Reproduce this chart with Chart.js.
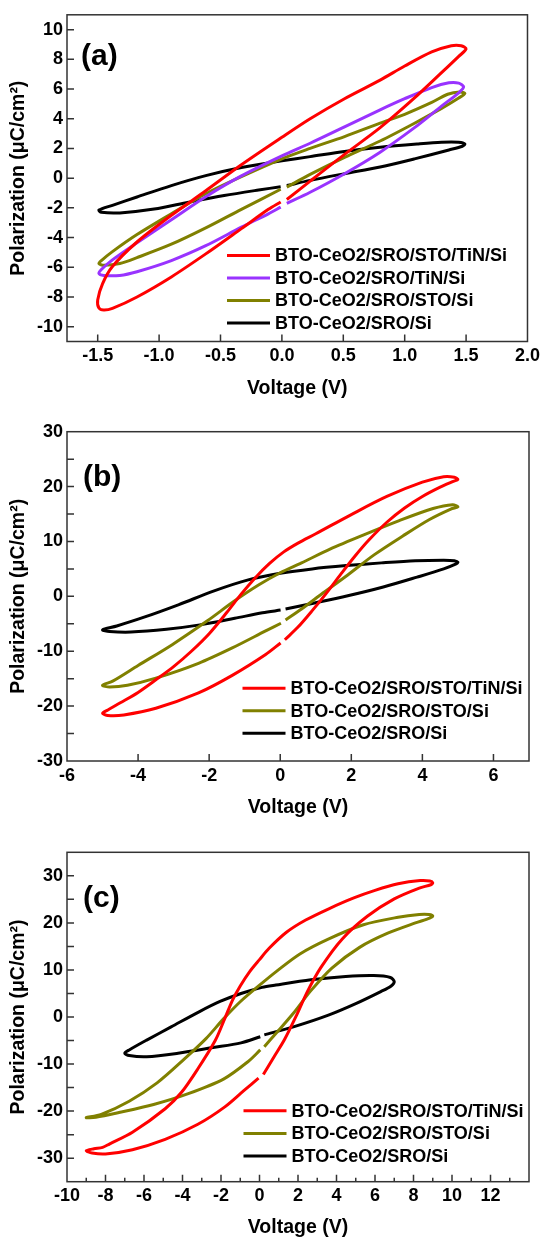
<!DOCTYPE html>
<html>
<head>
<meta charset="utf-8">
<script src="https://cdn.jsdelivr.net/npm/chart.js@4.4.1/dist/chart.umd.min.js"></script>
<style>
  html, body { margin: 0; padding: 0; background: #fff; }
  canvas { display: block; }
</style>
</head>
<body>
<canvas id="chartA" width="544" height="410"></canvas>
<canvas id="chartB" width="544" height="410"></canvas>
<canvas id="chartC" width="544" height="419"></canvas>
<script>
// === Series names ===
const namesA = ['BTO-CeO2/SRO/STO/TiN/Si', 'BTO-CeO2/SRO/TiN/Si', 'BTO-CeO2/SRO/STO/Si', 'BTO-CeO2/SRO/Si'];
const namesBC = ['BTO-CeO2/SRO/STO/TiN/Si', 'BTO-CeO2/SRO/STO/Si', 'BTO-CeO2/SRO/Si'];

// === Tick labels ===
const xTicksA = [-1.5, -1.0, -0.5, 0, 0.5, 1.0, 1.5, 2.0];
const yTicksA = [-10, -8, -6, -4, -2, 0, 2, 4, 6, 8, 10];
const xTicksB = [-6, -4, -2, 0, 2, 4, 6];
const yTicksB = [-30, -20, -10, 0, 10, 20, 30];
const xTicksC = [-10, -8, -6, -4, -2, 0, 2, 4, 6, 8, 10, 12];
const yTicksC = [-30, -20, -10, 0, 10, 20, 30];

// === Loops: [voltage V, polarization uC/cm2], start just after 0 on the lower branch ===
// (a) +-1.5 V
const aRed = [[0.04,-1.44],[0.23,-0.2],[0.51,1.6],[0.8,3.4],[1.08,5.4],[1.3,7.1],[1.44,8.2],[1.5,8.7],
  [1.46,8.92],[1.38,8.92],[1.22,8.5],[1.0,7.55],[0.8,6.6],[0.51,5.35],[0.23,4.0],[0,2.75],[-0.33,0.9],
  [-0.62,-0.85],[-0.9,-2.5],[-1.18,-4.3],[-1.38,-5.95],[-1.46,-7.1],[-1.5,-8.2],[-1.49,-8.75],
  [-1.45,-8.88],[-1.38,-8.77],[-1.18,-8.0],[-0.9,-6.65],[-0.62,-5.1],[-0.33,-3.4],[-0.11,-2.1],[-0.01,-1.6]];
const aPurple = [[0.04,-1.7],[0.23,-0.95],[0.51,0.3],[0.8,1.75],[1.08,3.4],[1.3,4.85],[1.44,5.75],[1.48,6.15],
  [1.44,6.4],[1.36,6.42],[1.22,6.1],[1.0,5.35],[0.8,4.6],[0.51,3.45],[0.23,2.35],[0,1.5],[-0.33,0.15],
  [-0.62,-1.25],[-0.9,-2.8],[-1.18,-4.35],[-1.38,-5.5],[-1.47,-6.15],[-1.49,-6.42],
  [-1.45,-6.55],[-1.32,-6.55],[-1.18,-6.3],[-0.9,-5.55],[-0.62,-4.55],[-0.33,-3.3],[-0.11,-2.4],[-0.01,-1.95]];
const aOlive = [[0.04,-0.6],[0.23,0.25],[0.51,1.4],[0.8,2.5],[1.08,3.7],[1.3,4.7],[1.44,5.4],[1.49,5.7],
  [1.45,5.8],[1.35,5.65],[1.22,5.1],[1.0,4.3],[0.8,3.7],[0.51,2.8],[0.23,2.0],[0,1.3],[-0.33,0.1],
  [-0.62,-1.05],[-0.9,-2.4],[-1.18,-3.8],[-1.38,-4.95],[-1.47,-5.55],[-1.49,-5.75],
  [-1.45,-5.87],[-1.32,-5.75],[-1.18,-5.35],[-0.9,-4.45],[-0.62,-3.35],[-0.33,-2.1],[-0.01,-0.75]];
const aBlack = [[0.04,-0.5],[0.23,-0.15],[0.51,0.3],[0.8,0.75],[1.08,1.3],[1.36,1.9],[1.47,2.15],[1.49,2.3],
  [1.44,2.42],[1.3,2.42],[1.1,2.3],[0.8,2.08],[0.51,1.8],[0.23,1.45],[0,1.17],[-0.33,0.72],
  [-0.62,0.17],[-0.9,-0.5],[-1.18,-1.27],[-1.38,-1.83],[-1.49,-2.15],
  [-1.47,-2.3],[-1.32,-2.34],[-1.04,-2.08],[-0.76,-1.62],[-0.47,-1.17],[-0.19,-0.8],[-0.01,-0.58]];

// (b) +-5 V
const bRed = [[0.13,-7.9],[0.5,-5.6],[0.9,-2.6],[1.3,0.6],[1.7,4.0],[2.1,7.3],[2.5,10.3],[3.0,13.5],[3.5,16.1],
  [4.0,18.2],[4.5,19.9],[4.85,20.9],[5.0,21.3],
  [4.9,21.7],[4.6,21.8],[4.0,20.8],[3.0,18.2],[2.0,14.9],[1.0,11.4],[0.5,9.7],[0.1,8.1],[-0.3,6.0],[-0.7,3.4],
  [-1.1,0.4],[-1.5,-2.9],[-2.0,-6.8],[-2.5,-10.0],[-3.0,-12.8],[-3.5,-15.2],[-4.0,-17.5],[-4.5,-19.4],
  [-4.85,-20.7],[-5.0,-21.3],
  [-4.85,-21.7],[-4.4,-21.6],[-3.5,-20.4],[-2.3,-17.6],[-1.35,-14.4],[-0.41,-10.6],[0.01,-8.5]];
const bOlive = [[0.15,-4.3],[0.6,-2.3],[1.2,0.6],[1.9,3.9],[2.65,7.6],[3.45,11.0],[4.2,14.0],[4.8,15.9],[5.0,16.3],
  [4.85,16.7],[4.3,16.0],[3.35,13.8],[2.35,11.2],[1.4,8.6],[0.6,6.1],[0,4.3],[-0.6,2.1],[-1.3,-0.9],
  [-2.06,-4.5],[-3.04,-8.8],[-4.0,-12.6],[-4.7,-15.4],[-5.0,-16.2],
  [-4.8,-16.5],[-4.3,-16.2],[-3.5,-14.9],[-2.3,-12.2],[-1.35,-9.4],[-0.41,-6.3],[0.02,-4.9]];
const bBlack = [[0.15,-2.3],[0.9,-1.3],[1.9,0.1],[2.9,1.7],[3.85,3.5],[4.6,5.0],[4.95,5.9],[5.0,6.2],
  [4.9,6.5],[4.6,6.6],[3.8,6.5],[2.85,6.1],[1.86,5.6],[0.9,5.0],[0,4.2],[-0.9,3.0],[-1.86,1.0],
  [-2.85,-1.5],[-3.83,-3.8],[-4.6,-5.4],[-5.0,-6.1],
  [-4.8,-6.4],[-4.2,-6.5],[-3.2,-6.0],[-2.26,-5.2],[-1.28,-4.0],[-0.5,-3.0],[0.01,-2.5]];

// (c) +-9 V (black +-7 V)
const cRed = [[0.2,-12.2],[0.75,-8.5],[1.3,-4.8],[1.94,0.5],[2.5,5.5],[3.2,10.6],[4.3,16.6],[5.6,21.4],[7.0,25.1],
  [8.3,27.4],[8.9,28.1],[9.0,28.5],
  [8.85,28.9],[8.35,29.0],[7.2,28.3],[6.0,26.9],[4.9,25.3],[3.6,23.0],[2.4,20.6],[1.4,18.0],[0.5,14.6],
  [0,12.2],[-0.5,9.7],[-1.0,6.6],[-1.4,3.6],[-1.8,-0.3],[-2.3,-5.0],[-3.2,-11.0],[-4.05,-16.0],
  [-4.9,-19.5],[-6.6,-24.5],[-7.8,-27.0],[-8.15,-27.7],[-8.6,-28.0],[-9.0,-28.4],
  [-8.7,-28.9],[-8.0,-29.1],[-6.6,-28.2],[-4.9,-26.0],[-3.2,-22.8],[-1.8,-19.1],[-0.8,-15.6],[-0.05,-13.0]];
const cOlive = [[0.25,-6.3],[0.85,-3.5],[1.76,0.8],[2.67,5.6],[3.76,10.4],[5.2,14.8],[6.66,17.8],[8.1,20.0],[8.84,21.0],[9.0,21.5],
  [8.8,21.8],[8.3,21.8],[7.2,21.2],[5.4,19.6],[3.6,16.6],[2.1,13.4],[0.85,9.6],[0.13,7.2],[-0.96,3.4],
  [-1.87,-0.4],[-2.78,-4.6],[-3.87,-8.8],[-5.32,-14.0],[-6.77,-17.9],[-8.22,-20.7],[-9.0,-21.4],
  [-8.5,-21.3],[-7.3,-20.3],[-5.5,-18.6],[-3.7,-16.3],[-1.87,-13.2],[-0.6,-9.5],[0.04,-7.0]];
const cBlack = [[0.25,-3.8],[1.76,-2.1],[3.58,0.4],[5.03,2.9],[6.3,5.4],[6.84,6.6],[7.0,7.5],
  [6.8,8.4],[5.93,8.8],[4.48,8.6],[2.67,7.9],[0.85,6.8],[0.13,6.3],[-0.96,5.0],[-2.05,3.3],[-3.14,1.1],
  [-4.59,-2.1],[-5.86,-4.9],[-6.77,-7.0],[-7.0,-7.7],
  [-6.77,-8.2],[-5.86,-8.45],[-4.23,-7.7],[-2.41,-6.5],[-0.96,-5.5],[0.04,-4.2]];

const FONT = '"Liberation Sans", Arial, sans-serif';
const W = 544;

// frame box + inward tick marks (bottom and left only)
const frameTicks = {
  id: 'frameTicks',
  afterDatasetsDraw(chart, args, o) {
    const { ctx, chartArea: a, scales } = chart;
    ctx.save();
    ctx.strokeStyle = '#333';
    ctx.lineWidth = 1.5;
    ctx.beginPath();
    ['x', 'y'].forEach(id => {
      const s = scales[id];
      const marks = s.ticks.map(t => [t.value, o.len]);
      const step = o.minor[id];
      if (step) {
        for (let k = Math.ceil(s.min / step - 1e-9); k * step <= s.max + 1e-9; k++) {
          const v = k * step;
          if (!s.ticks.some(t => Math.abs(t.value - v) < 1e-6)) marks.push([v, o.minorLen[id]]);
        }
      }
      marks.forEach(([v, len]) => {
        const p = s.getPixelForValue(v);
        if (id === 'x') {
          if (p < a.left + 1 || p > a.right - 1) return;
          ctx.moveTo(p, a.bottom); ctx.lineTo(p, a.bottom - len);
        } else {
          if (p < a.top + 1 || p > a.bottom - 1) return;
          ctx.moveTo(a.left, p); ctx.lineTo(a.left + len, p);
        }
      });
    });
    ctx.stroke();
    ctx.strokeRect(a.left, a.top, a.width, a.height);
    ctx.restore();
  }
};

// legend drawn inside the plot, lower right
const boxLegend = {
  id: 'boxLegend',
  afterDraw(chart, args, o) {
    const { ctx, chartArea: a } = chart;
    ctx.save();
    ctx.font = 'bold 18px ' + FONT;
    ctx.textBaseline = 'middle';
    chart.data.datasets.forEach((ds, i) => {
      const x = a.left + o.dx;
      const y = a.top + o.dy + i * o.gap;
      ctx.strokeStyle = ds.borderColor;
      ctx.lineWidth = 3;
      ctx.beginPath(); ctx.moveTo(x, y); ctx.lineTo(x + 43, y); ctx.stroke();
      ctx.fillStyle = '#000';
      ctx.fillText(ds.label, x + 48, y + 1);
    });
    ctx.restore();
  }
};

// (a) / (b) / (c)
const panelTag = {
  id: 'panelTag',
  afterDraw(chart, args, o) {
    const { ctx, chartArea: a } = chart;
    ctx.save();
    ctx.font = 'bold 30px ' + FONT;
    ctx.fillStyle = '#000';
    ctx.textBaseline = 'alphabetic';
    ctx.fillText(o.text, a.left + o.dx, a.top + o.dy);
    ctx.restore();
  }
};

function makeChart(id, cfg) {
  const canvas = document.getElementById(id);
  const H = canvas.height;
  const font = size => ({ family: FONT, weight: 'bold', size });
  const tickOpts = (list, fmt) => ({
    autoSkip: false, maxRotation: 0, minRotation: 0, padding: 4, color: '#000', font: font(18),
    callback: v => list.some(t => Math.abs(t - v) < 1e-9) ? fmt(v) : ''
  });
  return new Chart(canvas, {
    type: 'scatter',
    data: {
      datasets: cfg.series.map(s => ({
        label: s.label,
        data: s.points.map(([x, y]) => ({ x, y })),
        showLine: true, borderColor: s.color, backgroundColor: s.color,
        borderWidth: 3, pointRadius: 0, tension: 0.3, fill: false
      }))
    },
    options: {
      responsive: false, animation: false, events: [],
      layout: { padding: { top: cfg.area.top, right: W - cfg.area.right, left: 0, bottom: 0 } },
      plugins: {
        legend: { display: false }, tooltip: { enabled: false },
        frameTicks: { len: 7, minor: cfg.minor, minorLen: { x: 4, y: 7 } },
        boxLegend: cfg.legend,
        panelTag: cfg.tag
      },
      scales: {
        x: {
          type: 'linear', position: 'bottom', min: cfg.x.min, max: cfg.x.max, bounds: 'data',
          grid: { display: false, drawTicks: false }, border: { display: false },
          ticks: tickOpts(cfg.x.ticks, cfg.x.fmt),
          afterBuildTicks: s => { s.ticks = cfg.x.ticks.map(value => ({ value })); },
          title: { display: true, text: 'Voltage (V)', color: '#000', font: font(19.5), padding: { top: 0, bottom: cfg.xTitlePad } },
          afterFit: s => { s.height = H - cfg.area.bottom; }
        },
        y: {
          type: 'linear', position: 'left', min: cfg.y.min, max: cfg.y.max, bounds: 'data',
          grid: { display: false, drawTicks: false }, border: { display: false },
          ticks: tickOpts(cfg.y.ticks, v => String(v)),
          afterBuildTicks: s => { s.ticks = cfg.y.ticks.map(value => ({ value })); },
          title: { display: true, text: 'Polarization (μC/cm²)', color: '#000', font: font(19.5), padding: { top: 7, bottom: 0 } },
          afterFit: s => { s.width = cfg.area.left; }
        }
      }
    },
    plugins: [frameTicks, boxLegend, panelTag]
  });
}

makeChart('chartA', {
  series: [
    { label: namesA[0], points: aRed, color: '#ff0000' },
    { label: namesA[1], points: aPurple, color: '#9933ff' },
    { label: namesA[2], points: aOlive, color: '#808000' },
    { label: namesA[3], points: aBlack, color: '#000000' }
  ],
  area: { left: 67, right: 529, top: 14, bottom: 341.5 },
  x: { min: -1.75, max: 2.0, ticks: xTicksA, fmt: v => v.toFixed(1) },
  y: { min: -11, max: 11, ticks: yTicksA },
  minor: { x: 0, y: 0 },
  xTitlePad: 10,
  legend: { dx: 160, dy: 240.7, gap: 22.5 },
  tag: { text: '(a)', dx: 14, dy: 50 }
});

makeChart('chartB', {
  series: [
    { label: namesBC[0], points: bRed, color: '#ff0000' },
    { label: namesBC[1], points: bOlive, color: '#808000' },
    { label: namesBC[2], points: bBlack, color: '#000000' }
  ],
  area: { left: 67, right: 529, top: 21.7, bottom: 351 },
  x: { min: -6, max: 7, ticks: xTicksB, fmt: v => String(v) },
  y: { min: -30, max: 30, ticks: yTicksB },
  minor: { x: 0, y: 5 },
  xTitlePad: 1,
  legend: { dx: 175.5, dy: 256.6, gap: 22.5 },
  tag: { text: '(b)', dx: 16, dy: 54 }
});

makeChart('chartC', {
  series: [
    { label: namesBC[0], points: cRed, color: '#ff0000' },
    { label: namesBC[1], points: cOlive, color: '#808000' },
    { label: namesBC[2], points: cBlack, color: '#000000' }
  ],
  area: { left: 67, right: 529, top: 32.3, bottom: 361.7 },
  x: { min: -10, max: 14, ticks: xTicksC, fmt: v => String(v) },
  y: { min: -35, max: 35, ticks: yTicksC },
  minor: { x: 1, y: 5 },
  xTitlePad: 0,
  legend: { dx: 176.5, dy: 258.4, gap: 22.7 },
  tag: { text: '(c)', dx: 16, dy: 55 }
});
</script>
</body>
</html>
